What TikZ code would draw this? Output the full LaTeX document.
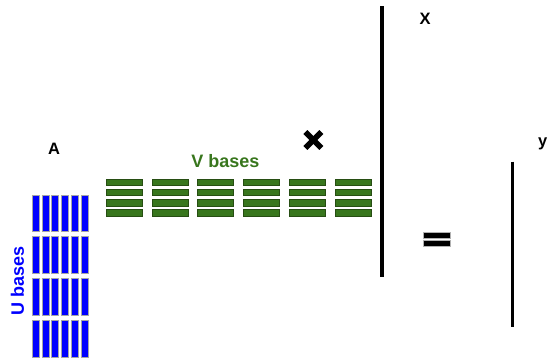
\documentclass[tikz,border=0pt]{standalone}
\usepackage{fontspec}
\setmainfont{Liberation Sans}
\definecolor{vgreen}{HTML}{38761D}
\definecolor{vgreendark}{HTML}{274E13}
\definecolor{ublue}{HTML}{0000FF}
\begin{document}
\begin{tikzpicture}[x=1pt,y=-1pt,
  ubar/.style={fill=ublue,draw=gray!70,line width=0.5pt},
  vbar/.style={fill=vgreen,draw=vgreendark,line width=0.6pt},
  vecline/.style={line width=3.8pt,black},
  eqbar/.style={fill=black,draw=gray!60,line width=0.5pt},
  lbl/.style={font=\bfseries\fontsize{16.5}{18}\selectfont,inner sep=0pt},
  biglbl/.style={font=\bfseries\fontsize{18}{20}\selectfont,inner sep=0pt}]
\useasboundingbox (0,0) rectangle (548,360);
% U bases blocks
\foreach \i in {0,...,5}{
  \foreach \j in {0,...,3}{
    \path[ubar] ({32+9.8*\i},{195+41.7*\j}) rectangle ++(7,36.7);
  }
}
% V bases blocks
\foreach \g in {0,...,5}{
  \foreach \r in {0,...,3}{
    \path[vbar] ({106+45.8*\g},{179+10.1*\r}) rectangle ++(36,6.6);
  }
}
% labels
\node[lbl] (A) at (54,148.6) {A};
\node[biglbl,text=ublue,rotate=90] (U) at (17.5,281) {U bases};
\node[biglbl,text=vgreen] (V) at (225.5,161.5) {V bases};
\node[lbl] (X) at (425,19) {X};
\node[lbl,anchor=east] (Y) at (547.6,143.5) {y};
% multiplication cross
\coordinate (c1) at (305.3,132);
\coordinate (c2) at (321.3,148);
\coordinate (c3) at (321.3,132);
\coordinate (c4) at (305.3,148);
\draw[line width=5.6pt] (c1) -- (c2);
\draw[line width=5.6pt] (c3) -- (c4);
% vector x
\coordinate (xt) at (382,6);
\coordinate (xb) at (382,276.7);
\draw[vecline] (xt) -- (xb);
% equals
\path[eqbar] (423.3,232.3) rectangle (450.7,238.4);
\path[eqbar] (423.3,240.4) rectangle (450.7,246.6);
% vector y
\coordinate (yt) at (512.4,161.7);
\coordinate (yb) at (512.4,326.5);
\draw[vecline,line width=3.4pt] (yt) -- (yb);
\end{tikzpicture}
\end{document}
